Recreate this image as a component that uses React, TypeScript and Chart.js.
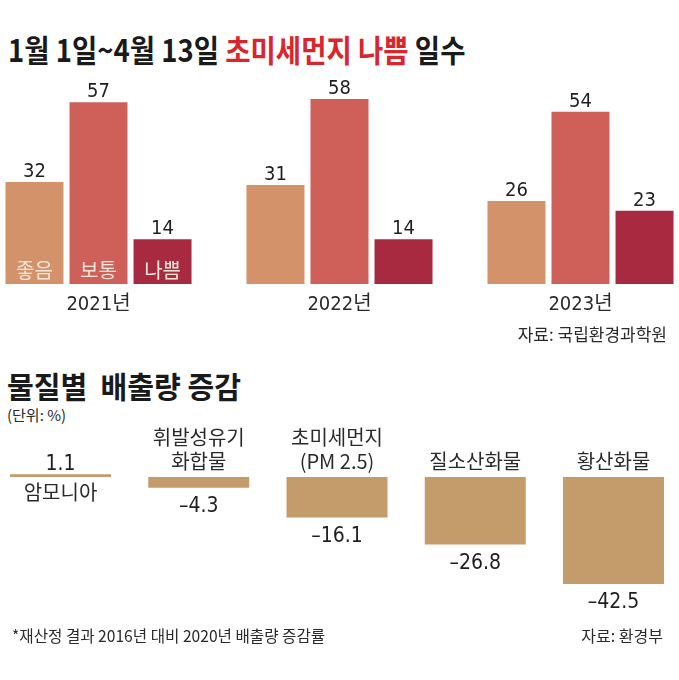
import React, { useEffect, useRef } from 'react';
import { Chart, registerables } from 'chart.js';

Chart.register(...registerables);

// ---- data: top chart ----
const years = ['2021년', '2022년', '2023년'];
const levelNames = ['좋음', '보통', '나쁨'];
const goodDays = [32, 31, 26];
const normalDays = [57, 58, 54];
const badDays = [14, 14, 23];

// ---- data: bottom chart ----
const substances = [['암모니아'], ['휘발성유기', '화합물'], ['초미세먼지', '(PM 2.5)'], ['질소산화물'], ['황산화물']];
const changeRates = [1.1, -4.3, -16.1, -26.8, -42.5];

const NUM_FONT = "'DejaVu Sans Condensed', 'Noto Sans CJK KR', sans-serif";
const KR_FONT = "'Noto Sans CJK KR', sans-serif";

const levelColors = ['#d4926a', '#cf5f59', '#a82a40'];
const rateColor = '#c49b6a';

const topLabelsPlugin = {
  id: 'topLabels',
  afterDatasetsDraw(chart: any) {
    const ctx = chart.ctx;
    ctx.save();
    ctx.textAlign = 'center';
    chart.data.datasets.forEach((ds: any, di: number) => {
      const meta = chart.getDatasetMeta(di);
      meta.data.forEach((bar: any, i: number) => {
        ctx.fillStyle = '#1e1e1e';
        ctx.font = `20px ${NUM_FONT}`;
        ctx.textBaseline = 'alphabetic';
        ctx.fillText(String(ds.data[i]), bar.x, bar.y - 5);
        if (i === 0) {
          ctx.fillStyle = '#fbe6da';
          ctx.font = `20px ${KR_FONT}`;
          ctx.textBaseline = 'middle';
          ctx.fillText(ds.label, bar.x, bar.base - 14);
        }
      });
    });
    const xs = chart.scales.x;
    ctx.fillStyle = '#2a2a2a';
    ctx.font = `20px ${NUM_FONT}`;
    ctx.textBaseline = 'middle';
    chart.data.labels.forEach((lab: string, i: number) => {
      ctx.fillText(lab, xs.getPixelForValue(i), chart.chartArea.bottom + 21);
    });
    ctx.restore();
  },
};

const bottomLabelsPlugin = {
  id: 'bottomLabels',
  afterDatasetsDraw(chart: any) {
    const ctx = chart.ctx;
    ctx.save();
    ctx.textAlign = 'center';
    const ds = chart.data.datasets[0];
    const meta = chart.getDatasetMeta(0);
    const zero = chart.scales.y.getPixelForValue(0);
    meta.data.forEach((bar: any, i: number) => {
      const v = ds.data[i];
      const names: string[] = chart.data.labels[i];
      const txt = v < 0 ? '\u2013' + Math.abs(v).toFixed(1) : v.toFixed(1);
      ctx.fillStyle = '#1e1e1e';
      ctx.font = `21px ${NUM_FONT}`;
      ctx.textBaseline = 'alphabetic';
      if (v >= 0) {
        ctx.fillText(txt, bar.x, bar.y - 4);
        ctx.fillStyle = '#2a2a2a';
        ctx.font = `20px ${KR_FONT}`;
        ctx.textBaseline = 'middle';
        names.forEach((n, k) => ctx.fillText(n, bar.x, zero + 15 + k * 24));
      } else {
        ctx.fillText(txt, bar.x, bar.y + 24);
        ctx.fillStyle = '#2a2a2a';
        ctx.font = `20px ${KR_FONT}`;
        ctx.textBaseline = 'middle';
        const n = names.length;
        names.forEach((nm, k) => ctx.fillText(nm, bar.x, zero - 16 - (n - 1 - k) * 24));
      }
    });
    ctx.restore();
  },
};

function TopChart() {
  const ref = useRef<HTMLCanvasElement>(null);
  useEffect(() => {
    const chart = new Chart(ref.current!, {
      type: 'bar',
      data: {
        labels: years,
        datasets: [
          { label: levelNames[0], data: goodDays, backgroundColor: levelColors[0] },
          { label: levelNames[1], data: normalDays, backgroundColor: levelColors[1] },
          { label: levelNames[2], data: badDays, backgroundColor: levelColors[2] },
        ],
      },
      options: {
        responsive: false,
        animation: false,
        events: [],
        layout: { padding: { left: 98.5, right: 98.5, top: 32.6, bottom: 40 } },
        datasets: { bar: { categoryPercentage: 0.797, barPercentage: 0.906, clip: false } as any },
        plugins: { legend: { display: false }, tooltip: { enabled: false } },
        scales: {
          x: { display: false, offset: false },
          y: { display: false, min: 0, max: 60 },
        },
      },
      plugins: [topLabelsPlugin],
    });
    return () => chart.destroy();
  }, []);
  return <canvas ref={ref} width={679} height={264} style={{ position: 'absolute', left: 0, top: 60, width: 679, height: 264 }} />;
}

function BottomChart() {
  const ref = useRef<HTMLCanvasElement>(null);
  useEffect(() => {
    const chart = new Chart(ref.current!, {
      type: 'bar',
      data: {
        labels: substances as any,
        datasets: [{ label: '증감률', data: changeRates, backgroundColor: rateColor }],
      },
      options: {
        responsive: false,
        animation: false,
        events: [],
        layout: { padding: { left: 60.5, right: 65.5, top: 64.4, bottom: 39.6 } },
        datasets: { bar: { categoryPercentage: 0.8, barPercentage: 0.913, clip: false } as any },
        plugins: { legend: { display: false }, tooltip: { enabled: false } },
        scales: {
          x: { display: false, offset: false },
          y: { display: false, min: -45, max: 5 },
        },
      },
      plugins: [bottomLabelsPlugin],
    });
    return () => chart.destroy();
  }, []);
  return <canvas ref={ref} width={679} height={230} style={{ position: 'absolute', left: 0, top: 400, width: 679, height: 230 }} />;
}

const textBase: React.CSSProperties = {
  position: 'absolute',
  fontFamily: KR_FONT,
  whiteSpace: 'pre',
  margin: 0,
};

export default function App() {
  return (
    <div style={{ position: 'fixed', left: 0, top: 0, width: 679, height: 680, background: '#fff', overflow: 'hidden' }}>
      <div style={{ ...textBase, left: 8, top: 32.5, fontSize: 31, lineHeight: '31px', fontWeight: 700, color: '#1a1a1a', transform: 'scaleX(0.887)', transformOrigin: 'left center' }}>
        1월 1일~4월 13일 <span style={{ color: '#d9262e' }}>초미세먼지 나쁨</span> 일수
      </div>
      <TopChart />
      <div style={{ ...textBase, right: 12, top: 325.4, fontSize: 17, lineHeight: '17px', color: '#2a2a2a' }}>자료: 국립환경과학원</div>
      <div style={{ ...textBase, left: 7, top: 370, fontSize: 30, lineHeight: '30px', fontWeight: 700, color: '#1a1a1a', transform: 'scaleX(0.97)', transformOrigin: 'left center' }}>
        물질별  배출량 증감
      </div>
      <div style={{ ...textBase, left: 7, top: 406.5, fontSize: 15, lineHeight: '15px', color: '#2a2a2a' }}>(단위: %)</div>
      <BottomChart />
      <div style={{ ...textBase, left: 12, top: 627, fontSize: 16, lineHeight: '16px', color: '#2a2a2a', transform: 'scaleX(0.976)', transformOrigin: 'left center' }}>
        *재산정 결과 2016년 대비 2020년 배출량 증감률
      </div>
      <div style={{ ...textBase, right: 16, top: 627, fontSize: 16, lineHeight: '16px', color: '#2a2a2a' }}>자료: 환경부</div>
    </div>
  );
}
